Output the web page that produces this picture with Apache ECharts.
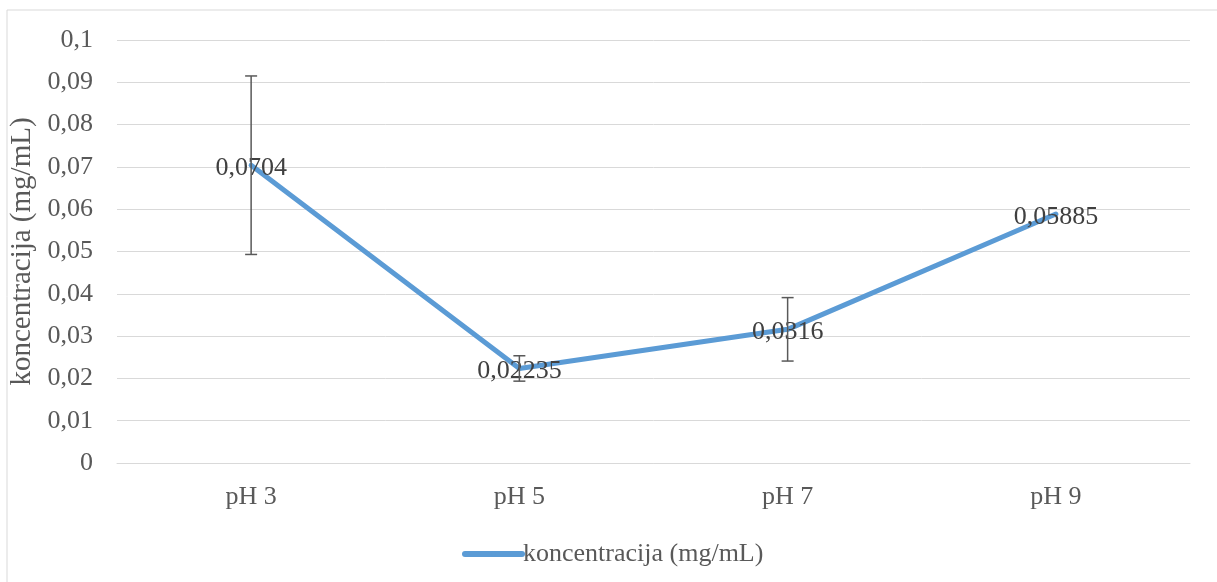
<!DOCTYPE html>
<html><head><meta charset="utf-8">
<script src="https://cdn.jsdelivr.net/npm/echarts@6/dist/echarts.min.js"></script>
<style>html,body{margin:0;padding:0;background:#fff}#c{width:1217px;height:582px}</style>
</head><body><div id="c"></div>
<script>
const categories = ['pH 3', 'pH 5', 'pH 7', 'pH 9'];
const values = [0.0704, 0.02235, 0.0316, 0.05885];
const errors = [0.0211, 0.0030, 0.0075, 0];
const yTicks = { min: 0, max: 0.1, interval: 0.01 };
const seriesName = 'koncentracija (mg/mL)';

const fmt = v => String(v).replace('.', ',');
const font = 'Liberation Serif';
const chart = echarts.init(document.getElementById('c'));
chart.setOption({
  animation: false,
  textStyle: { fontFamily: font },
  graphic: [{ type: 'rect', shape: { x: 7, y: 10, width: 1230, height: 600 }, style: { fill: 'none', stroke: '#d9d9d9', lineWidth: 1 }, z: -1 }],
  grid: { left: 117, right: 27, top: 40, bottom: 119, containLabel: false, outerBoundsMode: 'none' },
  legend: { data: [seriesName], left: 457, top: 536, itemWidth: 57, itemHeight: 6, itemGap: 0,
    textStyle: { fontFamily: font, fontSize: 26, color: '#595959', padding: [0,0,0,-4] },
    itemStyle: { color: '#5B9BD5', opacity: 1 },
    lineStyle: { color: '#5B9BD5', width: 6, opacity: 1 } },
  xAxis: { type: 'category', data: categories, boundaryGap: true,
    axisLine: { lineStyle: { color: '#d9d9d9', width: 1 } }, axisTick: { show: false },
    axisLabel: { fontFamily: font, fontSize: 26, color: '#595959', margin: 21 } },
  yAxis: { type: 'value', min: yTicks.min, max: yTicks.max, interval: yTicks.interval,
    name: seriesName, nameLocation: 'middle', nameGap: 72, nameRotate: 90,
    nameTextStyle: { fontFamily: font, fontSize: 29, color: '#595959' },
    axisLine: { show: false }, axisTick: { show: false },
    splitLine: { lineStyle: { color: '#d9d9d9', width: 1 } },
    axisLabel: { fontFamily: font, fontSize: 26, color: '#595959', margin: 24, formatter: v => fmt(+v.toFixed(2)) } },
  series: [
    { name: seriesName, type: 'line', data: values, symbol: 'circle', symbolSize: 2, showSymbol: true, z: 2,
      lineStyle: { color: '#5B9BD5', width: 5, cap: 'round' }, itemStyle: { color: '#5B9BD5', borderWidth: 0 },
      label: { show: true, position: 'inside', offset: [0, 3], formatter: p => fmt(p.value), fontFamily: font, fontSize: 26, color: '#404040' } },
    { type: 'custom', z: 3, silent: true,
      data: values.map((v, i) => [i, v - errors[i], v + errors[i]]),
      renderItem: (params, api) => {
        if (api.value(2) - api.value(1) <= 0) return null;
        const lo = api.coord([api.value(0), api.value(1)]);
        const hi = api.coord([api.value(0), api.value(2)]);
        const hw = 6;
        const st = { stroke: '#595959', lineWidth: 1.5 };
        return { type: 'group', children: [
          { type: 'line', shape: { x1: lo[0], y1: lo[1], x2: hi[0], y2: hi[1] }, style: st },
          { type: 'line', shape: { x1: lo[0]-hw, y1: lo[1], x2: lo[0]+hw, y2: lo[1] }, style: st },
          { type: 'line', shape: { x1: hi[0]-hw, y1: hi[1], x2: hi[0]+hw, y2: hi[1] }, style: st }
        ]};
      } }
  ]
});
</script></body></html>
